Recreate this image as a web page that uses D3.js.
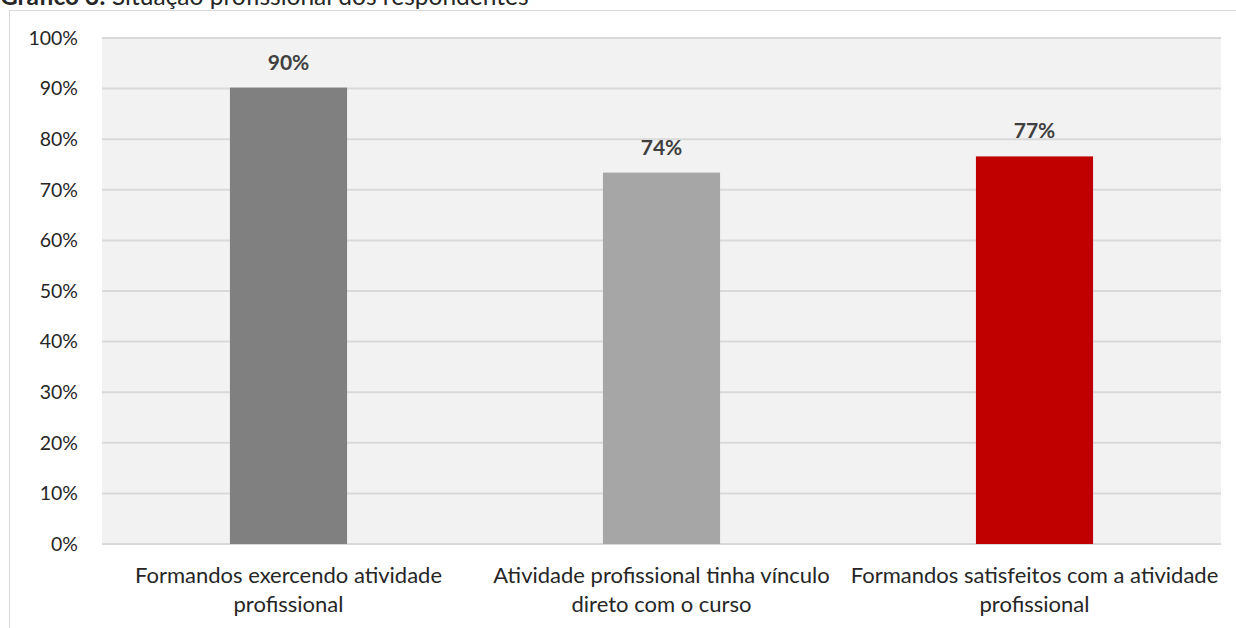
<!DOCTYPE html>
<html>
<head>
<meta charset="utf-8">
<script src="https://cdn.jsdelivr.net/npm/d3@7"></script>
<style>
body { margin: 0; background: #fff; }
text { font-family: Lato, "Open Sans", sans-serif; }
</style>
</head>
<body>
<svg id="chart" width="1236" height="628"></svg>
<script>
const categories = [
    ["Formandos exercendo atividade", "profissional"],
    ["Atividade profissional tinha vínculo", "direto com o curso"],
    ["Formandos satisfeitos com a atividade", "profissional"]
];
const values = [90.2, 73.4, 76.6];
const valueLabels = ["90%", "74%", "77%"];
const barColors = ["#808080", "#a6a6a6", "#c00000"];
const yTicks = [0, 10, 20, 30, 40, 50, 60, 70, 80, 90, 100];

const svg = d3.select("#chart");
const margin = { left: 102, right: 15, top: 38, bottom: 84 };
const width = 1236 - margin.left - margin.right,
      height = 628 - margin.top - margin.bottom;

// title (cut off at the top, like the reference)
const title = svg.append("text")
      .attr("x", 0)
      .attr("y", 5)
      .style("font-size", "24.5px")
      .style("fill", "#262626");
title.append("tspan").style("font-weight", "bold").text("Gráfico 3:");
title.append("tspan").text(" Situação profissional dos respondentes");

// outer frame
svg.append("rect")
    .attr("x", 9.5).attr("y", 10.5)
    .attr("width", 1240).attr("height", 640)
    .attr("fill", "none")
    .attr("stroke", "#d9d9d9");

const chart = svg.append("g")
      .attr("transform", `translate(${margin.left},${margin.top})`);

const x = d3.scaleBand()
      .domain(d3.range(categories.length))
      .range([0, width])
      .paddingInner(0.686)
      .paddingOuter(0.343);
const y = d3.scaleLinear()
      .domain([0, 100])
      .range([height, 0]);

chart.append("rect")
    .attr("width", width).attr("height", height)
    .attr("fill", "#f2f2f2");

chart.selectAll(".grid")
    .data(yTicks)
    .enter().append("line")
    .attr("class", "grid")
    .attr("x1", 0).attr("x2", width)
    .attr("y1", (d) => y(d)).attr("y2", (d) => y(d))
    .attr("stroke", "#d9d9d9")
    .attr("stroke-width", 2);

const yAxis = chart.append("g")
      .call(d3.axisLeft(y).tickValues(yTicks).tickFormat((d) => d + "%").tickSize(0).tickPadding(24));
yAxis.select(".domain").remove();
yAxis.selectAll("text")
    .style("font-family", "Lato, sans-serif")
    .style("font-size", "19.5px")
    .style("fill", "#262626");

chart.selectAll(".bar")
    .data(values)
    .enter().append("rect")
    .attr("class", "bar")
    .attr("x", (d, i) => x(i))
    .attr("y", (d) => y(d))
    .attr("width", x.bandwidth())
    .attr("height", (d) => height - y(d))
    .attr("fill", (d, i) => barColors[i]);

chart.selectAll(".value")
    .data(values)
    .enter().append("text")
    .attr("class", "value")
    .attr("x", (d, i) => x(i) + x.bandwidth() / 2)
    .attr("y", (d) => y(d) - 18)
    .attr("text-anchor", "middle")
    .style("font-size", "21px")
    .style("font-weight", "bold")
    .style("fill", "#404040")
    .text((d, i) => valueLabels[i]);

const catLabels = chart.selectAll(".cat")
      .data(categories)
      .enter().append("text")
      .attr("class", "cat")
      .attr("text-anchor", "middle")
      .style("font-size", "22px")
      .style("fill", "#262626");
catLabels.each(function(lines, i) {
    const t = d3.select(this);
    lines.forEach(function(line, j) {
	t.append("tspan")
	    .attr("x", x(i) + x.bandwidth() / 2)
	    .attr("y", height + 39 + j * 28.5)
	    .text(line);
    });
});
</script>
</body>
</html>
